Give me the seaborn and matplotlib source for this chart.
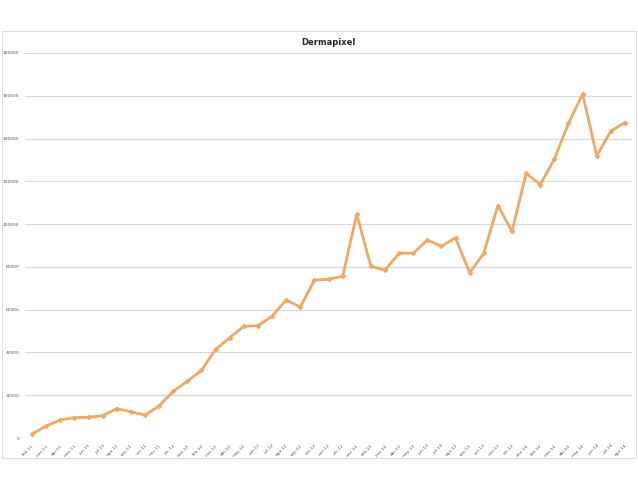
import matplotlib
matplotlib.use("Agg")
import matplotlib.pyplot as plt
import matplotlib.patches as mpatches
import seaborn as sns
import pandas as pd

# Monthly values
months = ['feb-11', 'mar-11', 'abr-11', 'may-11', 'jun-11', 'jul-11', 'ago-11', 'sep-11',
          'oct-11', 'nov-11', 'dic-11', 'ene-12', 'feb-12', 'mar-12', 'abr-12', 'may-12',
          'jun-12', 'jul-12', 'ago-12', 'sep-12', 'oct-12', 'nov-12', 'dic-12', 'ene-13',
          'feb-13', 'mar-13', 'abr-13', 'may-13', 'jun-13', 'jul-13', 'ago-13', 'sep-13',
          'oct-13', 'nov-13', 'dic-13', 'ene-14', 'feb-14', 'mar-14', 'abr-14', 'may-14',
          'jun-14', 'jul-14', 'ago-14']
visits = [1900, 5600, 8400, 9500, 9700, 10400, 13700, 12300,
          10700, 15000, 21800, 26600, 31600, 41400, 46900, 52200,
          52500, 56900, 64500, 61200, 73800, 74200, 75600, 104600,
          80300, 78400, 86400, 86400, 92500, 89700, 93600, 77200,
          86400, 108700, 96600, 123700, 118500, 130400, 147100, 160800,
          132000, 143500, 147500]
y_ticks = [0, 20000, 40000, 60000, 80000, 100000, 120000, 140000, 160000, 180000]

df = pd.DataFrame({'mes': months, 'visitas': visits, 'pos': range(len(months))})

sns.set_style('white')
fig = plt.figure(figsize=(6.38, 4.79), dpi=100)
ax = fig.add_axes([25 / 638, 1 - 438 / 479, 607 / 638, (438 - 53) / 479])

sns.lineplot(data=df, x='pos', y='visitas', ax=ax, color='#EFA865', linewidth=2,
             marker='D', markersize=3, markeredgewidth=0)

ax.set_xlim(-0.5, len(months) - 0.5)
ax.set_ylim(0, 180000)
ax.set_yticks(y_ticks)
ax.set_yticklabels([str(v) for v in y_ticks], fontsize=3.2, color='#555555')
ax.set_xticks(range(len(months)))
ax.set_xticklabels(months, rotation=45, ha='right', rotation_mode='anchor',
                   fontsize=3.2, color='#555555')
ax.tick_params(axis='both', length=0, pad=4)
ax.yaxis.grid(True, color='#D9D9D9', linewidth=0.9)
ax.set_axisbelow(True)
for s in ax.spines.values():
    s.set_visible(False)
ax.set_xlabel('')
ax.set_ylabel('')
ax.set_title('Dermapixel', fontsize=6, fontweight='bold', pad=6)

# chart frame
fig.patches.append(mpatches.Rectangle((2 / 638, 1 - 458 / 479), 634 / 638, 427 / 479,
                                      transform=fig.transFigure, fill=False,
                                      edgecolor='#DDDDDD', linewidth=0.8))

fig.savefig('out.png', dpi=100)
